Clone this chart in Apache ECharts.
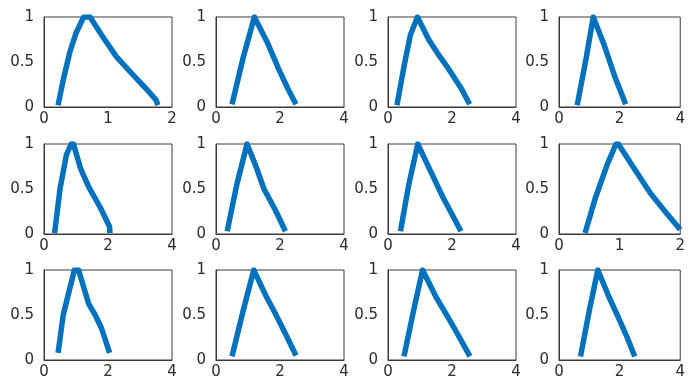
<!DOCTYPE html>
<html>
<head>
<meta charset="utf-8">
<script src="https://cdn.jsdelivr.net/npm/echarts@6/dist/echarts.min.js"></script>
<style>
  html, body { margin: 0; padding: 0; background: #fff; }
  #chart { width: 688px; height: 383px; }
</style>
</head>
<body>
<div id="chart"></div>
<script>
// curve points [x, y], row by row
const panel1 = [[0.22, 0.02], [0.3, 0.3], [0.4, 0.6], [0.5, 0.82], [0.62, 1], [0.72, 1], [0.9, 0.8], [1.13, 0.56], [1.4, 0.35], [1.6, 0.2], [1.75, 0.08], [1.78, 0.02]];
const panel2 = [[0.5, 0.03], [0.85, 0.55], [1.2, 1], [1.25, 1], [1.6, 0.72], [1.95, 0.43], [2.25, 0.2], [2.5, 0.03]];
const panel3 = [[0.28, 0.02], [0.5, 0.45], [0.7, 0.8], [0.92, 1], [0.97, 1], [1.27, 0.75], [1.6, 0.57], [1.9, 0.42], [2.3, 0.2], [2.55, 0.03]];
const panel4 = [[0.6, 0.02], [0.9, 0.55], [1.13, 1], [1.18, 1], [1.5, 0.68], [1.85, 0.33], [2.2, 0.03]];
const panel5 = [[0.33, 0.01], [0.5, 0.5], [0.7, 0.88], [0.85, 1], [0.92, 1], [1.15, 0.72], [1.4, 0.52], [1.75, 0.3], [2.05, 0.08], [2.06, 0.01]];
const panel6 = [[0.35, 0.03], [0.65, 0.55], [0.97, 1], [1.02, 1], [1.25, 0.75], [1.5, 0.5], [1.85, 0.27], [2.17, 0.03]];
const panel7 = [[0.39, 0.03], [0.65, 0.55], [0.93, 1], [0.98, 1], [1.3, 0.72], [1.7, 0.42], [2.0, 0.22], [2.28, 0.03]];
const panel8 = [[0.43, 0.01], [0.6, 0.4], [0.8, 0.78], [0.94, 1], [0.98, 1], [1.2, 0.77], [1.5, 0.46], [1.75, 0.25], [2.0, 0.05]];
const panel9 = [[0.44, 0.08], [0.6, 0.5], [0.95, 1], [1.08, 1], [1.4, 0.62], [1.6, 0.5], [1.8, 0.35], [2.05, 0.08]];
const panel10 = [[0.5, 0.04], [0.85, 0.55], [1.18, 1], [1.24, 1], [1.55, 0.72], [1.85, 0.52], [2.2, 0.27], [2.5, 0.05]];
const panel11 = [[0.5, 0.04], [0.8, 0.55], [1.08, 1], [1.14, 1], [1.5, 0.7], [1.9, 0.46], [2.25, 0.24], [2.56, 0.04]];
const panel12 = [[0.71, 0.04], [1.0, 0.55], [1.28, 1], [1.33, 1], [1.65, 0.7], [1.95, 0.48], [2.25, 0.25], [2.5, 0.04]];

const panels = [panel1, panel2, panel3, panel4, panel5, panel6, panel7, panel8, panel9, panel10, panel11, panel12];
// x axis upper limit of each panel
const xMax = [2, 4, 4, 4, 4, 4, 4, 2, 4, 4, 4, 4];
const yTicks = [0, 0.5, 1];

const colLeft = [44, 216, 388, 559];
const rowTop = [17, 144, 270];
const boxW = 128;
const boxH = 90;

const grids = [], xAxes = [], yAxes = [], series = [];
const labelStyle = { color: '#2b2b2b', fontSize: 15, fontFamily: 'DejaVu Sans' };

panels.forEach(function (pts, i) {
    const r = Math.floor(i / 4), c = i % 4;
    grids.push({
        left: colLeft[c], top: rowTop[r], width: boxW, height: boxH,
        show: true, borderColor: '#3a3a3a', borderWidth: 1, backgroundColor: '#fff'
    });
    xAxes.push({
        gridIndex: i, type: 'value', min: 0, max: xMax[i], interval: xMax[i] / 2,
        axisLine: { show: true, lineStyle: { color: '#3a3a3a' } },
        axisTick: { show: false },
        splitLine: { show: false },
        axisLabel: Object.assign({ margin: 5 }, labelStyle)
    });
    yAxes.push({
        gridIndex: i, type: 'value', min: yTicks[0], max: yTicks[2], interval: 0.5,
        axisLine: { show: true, lineStyle: { color: '#3a3a3a' } },
        axisTick: { show: false },
        splitLine: { show: false },
        axisLabel: Object.assign({ margin: 10 }, labelStyle)
    });
    series.push({
        type: 'line', xAxisIndex: i, yAxisIndex: i, data: pts,
        showSymbol: false, smooth: false, silent: true,
        lineStyle: { color: '#0072BD', width: 5.5, join: 'round', cap: 'butt' }
    });
});

const chart = echarts.init(document.getElementById('chart'));
chart.setOption({
    backgroundColor: '#fff',
    animation: false,
    grid: grids,
    xAxis: xAxes,
    yAxis: yAxes,
    series: series
});
</script>
</body>
</html>
